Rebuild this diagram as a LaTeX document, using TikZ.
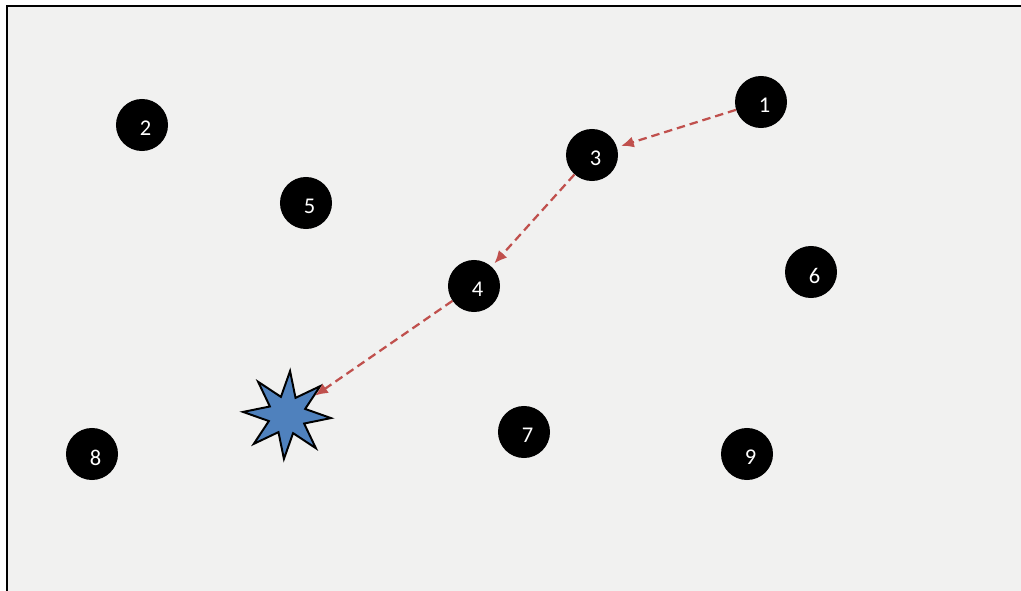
\documentclass[tikz,border=0pt]{standalone}
\usepackage{fontspec}
\setmainfont{Carlito}
\usepackage{xcolor}
\usetikzlibrary{arrows.meta, shapes.geometric}
\definecolor{PathRed}{RGB}{192,80,77}
\definecolor{StarBlue}{RGB}{79,129,189}
\definecolor{PaperGray}{RGB}{241,241,240}
\tikzset{
  >=latex,
  % stazioni (numero un po' spostato in basso a destra)
  stop/.style={circle,fill=black,minimum size=1.3cm,inner sep=0pt,
    label={[text=white,font=\fontsize{16}{18}\selectfont,xshift=2.6pt,yshift=-2.6pt]center:#1}},
  % obiettivo
  target/.style={star,star points=8,star point ratio=2.3,minimum size=2.2cm,inner sep=0pt,fill=StarBlue,draw=black,line width=1.4pt,rotate=-4},
  % percorso
  hop/.style={-{Latex[length=9pt,width=8pt]},PathRed,line width=1.6pt,dash pattern=on 6pt off 3.5pt,shorten >=3pt}
}
\begin{document}
\begin{tikzpicture}[x=0.025cm,y=-0.025cm]
    \useasboundingbox (0,0) rectangle (1021,591);
    \fill[PaperGray] (7,6) rectangle (1021,591);
    \draw[line width=1.3pt] (7,591)--(7,6)--(1021,6);
    % nodi
    \node[stop=1] (n1) at (761,102) {};
    \node[stop=2] (n2) at (142,125) {};
    \node[stop=3] (n3) at (592,155) {};
    \node[stop=4] (n4) at (474,286) {};
    \node[stop=5] (n5) at (306,203) {};
    \node[stop=6] (n6) at (811,272) {};
    \node[stop=7] (n7) at (524,432) {};
    \node[stop=8] (n8) at (92,454) {};
    \node[stop=9] (n9) at (747,454) {};
    \node[target] (goal) at (287,415) {};
    % frecce
    \draw[hop] (n1) -- (n3);
    \draw[hop] (n3) -- (n4);
    \draw[hop,shorten >=0pt] (n4) -- (goal);
  \end{tikzpicture}
\end{document}
